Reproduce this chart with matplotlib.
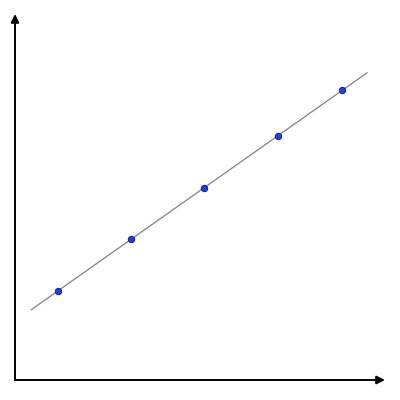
import numpy as np
import matplotlib
matplotlib.use("Agg")
import matplotlib.pyplot as plt

# points
x_vals = [1.0, 2.0, 3.0, 4.0, 4.88]
y_vals = [2.0, 3.0, 4.0, 5.0, 5.88]
line_x = [0.64, 5.22]

slope, intercept = np.polyfit(x_vals, y_vals, 1)
fit_x = np.array(line_x)
fit_y = slope * fit_x + intercept

fig = plt.figure(figsize=(4, 4), dpi=100)
ax = fig.add_axes([15 / 400, 20 / 400, 370 / 400, 366 / 400])
ax.set_xlim(0.417, 5.465)
ax.set_ylim(0.279, 7.358)
for s in ax.spines.values():
    s.set_visible(False)
ax.set_xticks([])
ax.set_yticks([])

ax.plot(fit_x, fit_y, color="#8c8c8c", lw=1.0, zorder=1)
ax.plot(x_vals, y_vals, "o", ms=4.6, mfc="#1f3fe8", mec="#10208a", mew=0.7, zorder=2)

# axes with arrow heads
arrow = dict(arrowstyle="-|>", color="black", lw=1.4, mutation_scale=12,
             shrinkA=0, shrinkB=0)
ax.annotate("", xy=(1, 0), xytext=(0, 0), xycoords="axes fraction",
            textcoords="axes fraction", arrowprops=arrow, annotation_clip=False)
ax.annotate("", xy=(0, 1), xytext=(0, 0), xycoords="axes fraction",
            textcoords="axes fraction", arrowprops=arrow, annotation_clip=False)

fig.savefig("out.png", dpi=100)
